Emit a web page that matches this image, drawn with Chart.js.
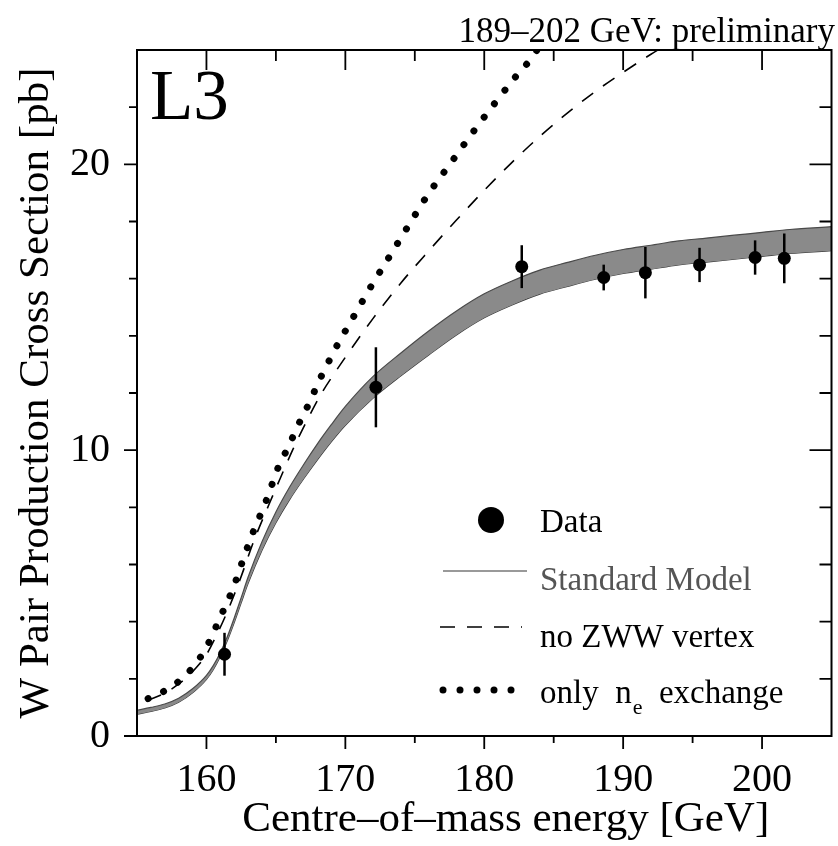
<!DOCTYPE html>
<html>
<head>
<meta charset="utf-8">
<title>W pair production cross section</title>
<script src="https://cdn.jsdelivr.net/npm/chart.js@4.4.1/dist/chart.umd.min.js"></script>
<style>
  html, body { margin: 0; padding: 0; background: #fff; }
  #wrap { width: 838px; height: 846px; }
</style>
</head>
<body>
<div id="wrap"><canvas id="xsec" width="838" height="846"></canvas></div>
<script>
/* L3: W pair production cross section vs centre-of-mass energy */

// measured points (GeV, pb)
const dataEnergy = [161.3, 172.2, 182.7, 188.6, 191.6, 195.5, 199.5, 201.6];
const dataXsec   = [2.86, 12.2, 16.42, 16.04, 16.21, 16.48, 16.74, 16.71];
const dataErr    = [0.75, 1.4, 0.75, 0.45, 0.9, 0.6, 0.6, 0.87];

// Standard Model band (lower / upper edge)
const smEnergy = [155, 156, 157, 158, 159, 160, 160.5, 161, 161.5, 162, 162.5, 163, 164, 165, 166, 167, 168, 169, 170,
                  172, 174, 176, 178, 180, 182, 184, 186, 188, 190, 192, 194, 196, 198, 200, 202, 205];
const smLow  = [0.76, 0.86, 0.98, 1.18, 1.51, 1.98, 2.33, 2.78, 3.33, 3.97, 4.66, 5.34, 6.50, 7.46, 8.28, 9.00, 9.67, 10.30, 10.87,
                11.82, 12.60, 13.33, 14.03, 14.63, 15.08, 15.46, 15.73, 15.98, 16.18, 16.33, 16.48, 16.58, 16.68, 16.78, 16.88, 16.98];
const smHigh = [0.90, 1.00, 1.12, 1.32, 1.65, 2.12, 2.47, 2.92, 3.47, 4.13, 4.84, 5.56, 6.80, 7.84, 8.72, 9.50, 10.23, 10.90, 11.53,
                12.58, 13.40, 14.17, 14.87, 15.47, 15.92, 16.30, 16.57, 16.82, 17.02, 17.17, 17.32, 17.42, 17.52, 17.62, 17.72, 17.82];

// no ZWW vertex
const noZwwEnergy = [155.8, 157, 158, 159, 160, 160.7, 161.5, 162.4, 163.44, 164.5, 165.3, 166.2, 167.2, 168.3, 169.3, 170,
                     172, 174, 176, 178, 180, 182, 184, 186, 188, 190, 192, 193.2];
const noZwwXsec   = [1.25, 1.5, 1.82, 2.25, 2.85, 3.5, 4.35, 5.45, 6.86, 8.1, 9.0, 10.0, 11.0, 12.0, 12.75, 13.25,
                     14.61, 15.85, 16.97, 18.05, 19.09, 20.07, 20.98, 21.8, 22.55, 23.22, 23.85, 24.2];

// only nu_e exchange
const nueEnergy = [155.8, 157.0, 158.1, 159.0, 159.8, 160.4, 160.9, 161.5, 162.0, 162.4, 162.85, 163.3, 163.8, 164.3, 164.75,
                   165.2, 165.8, 166.35, 166.9, 167.5, 168.0, 168.6, 169.2, 170.5, 171.8, 173.2, 174.6, 176.0, 177.55,
                   179.1, 180.7, 182.3, 183.2, 183.8];
const nueXsec   = [1.31, 1.58, 1.95, 2.39, 2.94, 3.5, 4.06, 4.69, 5.27, 5.84, 6.46, 7.06, 7.64, 8.23, 8.84,
                   9.44, 10.02, 10.6, 11.18, 11.74, 12.32, 12.9, 13.48, 14.59, 15.69, 16.79, 17.9, 18.98, 20.02,
                   21.07, 22.1, 23.09, 23.59, 24.0];

const xTicks = { min: 155, max: 205, step: 5 };
const yTicks = { min: 0, max: 24, step: 2 };

const FONT = '"Liberation Serif", "Times New Roman", serif';

function pts(xs, ys) { return xs.map((x, i) => ({ x: x, y: ys[i] })); }

const decor = {
  id: 'decor',
  afterDatasetsDraw(chart) {
    const { ctx, chartArea: a, scales: { x, y } } = chart;
    ctx.save();

    // error bars
    ctx.strokeStyle = '#000';
    ctx.lineWidth = 2.5;
    dataEnergy.forEach((e, i) => {
      const px = x.getPixelForValue(e);
      ctx.beginPath();
      ctx.moveTo(px, y.getPixelForValue(dataXsec[i] - dataErr[i]));
      ctx.lineTo(px, y.getPixelForValue(dataXsec[i] + dataErr[i]));
      ctx.stroke();
    });

    // frame
    ctx.lineWidth = 2;
    ctx.strokeRect(a.left, a.top, a.right - a.left, a.bottom - a.top);

    // tick marks: bottom/left outward, top/right inward
    ctx.lineWidth = 1.8;
    ctx.beginPath();
    x.ticks.forEach(t => {
      if (t.value <= xTicks.min || t.value >= xTicks.max) return;
      const px = x.getPixelForValue(t.value);
      const major = t.value % 10 === 0;
      ctx.moveTo(px, a.bottom); ctx.lineTo(px, a.bottom + (major ? 13 : 7));
      ctx.moveTo(px, a.top);    ctx.lineTo(px, a.top + (major ? 20 : 11));
    });
    y.ticks.forEach(t => {
      if (t.value >= yTicks.max) return;
      const py = y.getPixelForValue(t.value);
      const major = t.value % 10 === 0;
      ctx.moveTo(a.left, py);  ctx.lineTo(a.left - (major ? 13 : 8), py);
      if (t.value > yTicks.min) { ctx.moveTo(a.right, py); ctx.lineTo(a.right - (major ? 22 : 12), py); }
    });
    ctx.stroke();
    ctx.restore();
  },
  afterDraw(chart) {
    const ctx = chart.ctx;
    ctx.save();
    ctx.fillStyle = '#000';
    ctx.textBaseline = 'alphabetic';

    ctx.font = '71px ' + FONT;
    ctx.textAlign = 'left';
    ctx.fillText('L3', 150, 119);

    ctx.font = '35px ' + FONT;
    ctx.textAlign = 'right';
    ctx.fillText('189\u2013202 GeV: preliminary', 835, 42);

    // legend
    ctx.textAlign = 'left';
    ctx.font = '33px ' + FONT;

    ctx.beginPath();
    ctx.arc(491, 520, 13, 0, Math.PI * 2);
    ctx.fill();
    ctx.fillText('Data', 540, 532);

    ctx.strokeStyle = '#777';
    ctx.lineWidth = 1.5;
    ctx.beginPath(); ctx.moveTo(443, 571); ctx.lineTo(527, 571); ctx.stroke();
    ctx.fillStyle = '#555';
    ctx.fillText('Standard Model', 540, 590);

    ctx.fillStyle = '#000';
    ctx.strokeStyle = '#000';
    ctx.setLineDash([15, 12]);
    ctx.beginPath(); ctx.moveTo(440, 627); ctx.lineTo(522, 627); ctx.stroke();
    ctx.setLineDash([]);
    ctx.fillText('no ZWW vertex', 540, 647);

    for (let i = 0; i < 5; i++) {
      ctx.beginPath();
      ctx.arc(443 + 17 * i, 690, 3.5, 0, Math.PI * 2);
      ctx.fill();
    }
    let tx = 540;
    ctx.fillText('only  n', tx, 703);
    tx += ctx.measureText('only  n').width + 1;
    ctx.font = '22px ' + FONT;
    ctx.fillText('e', tx, 714);
    tx += ctx.measureText('e').width;
    ctx.font = '33px ' + FONT;
    ctx.fillText('  exchange', tx, 703);

    ctx.restore();
  }
};

new Chart(document.getElementById('xsec'), {
  type: 'scatter',
  data: {
    datasets: [
      {
        label: 'Data',
        data: pts(dataEnergy, dataXsec),
        pointRadius: 6.5,
        pointBackgroundColor: '#000',
        pointBorderWidth: 0,
        showLine: false
      },
      {
        label: 'SM upper',
        data: pts(smEnergy, smHigh),
        showLine: true,
        pointRadius: 0,
        borderColor: '#4a4a4a',
        borderWidth: 1.2,
        backgroundColor: '#8a8a8a',
        fill: '+1',
        cubicInterpolationMode: 'monotone'
      },
      {
        label: 'SM lower',
        data: pts(smEnergy, smLow),
        showLine: true,
        pointRadius: 0,
        borderColor: '#3a3a3a',
        borderWidth: 1.2,
        fill: false,
        cubicInterpolationMode: 'monotone'
      },
      {
        label: 'no ZWW vertex',
        data: pts(noZwwEnergy, noZwwXsec),
        showLine: true,
        pointRadius: 0,
        borderColor: '#000',
        borderWidth: 1.6,
        borderDash: [14, 12],
        fill: false,
        cubicInterpolationMode: 'monotone'
      },
      {
        label: 'only nu_e exchange',
        data: pts(nueEnergy, nueXsec),
        showLine: true,
        pointRadius: 0,
        borderColor: '#000',
        borderWidth: 7,
        borderDash: [0.01, 17],
        borderCapStyle: 'round',
        fill: false,
        cubicInterpolationMode: 'monotone'
      }
    ]
  },
  options: {
    responsive: false,
    animation: false,
    events: [],
    layout: { padding: { top: 50, right: 2, left: 0, bottom: 0 } },
    plugins: {
      legend: { display: false },
      tooltip: { enabled: false }
    },
    scales: {
      x: {
        type: 'linear',
        min: xTicks.min,
        max: xTicks.max,
        afterFit(s) { s.height = 110; s.paddingLeft = 0; s.paddingRight = 0; },
        grid: { display: false, drawTicks: false },
        border: { display: false },
        ticks: {
          stepSize: xTicks.step,
          autoSkip: false,
          maxRotation: 0,
          padding: 20,
          color: '#000',
          font: { family: FONT, size: 40 },
          callback: v => (v % 10 === 0 ? String(v) : '')
        },
        title: {
          display: true,
          // two en spaces nudge the centred title right, as in the original
          text: '\u2002\u2002Centre\u2013of\u2013mass energy [GeV]',
          color: '#000',
          font: { family: FONT, size: 43 },
          padding: { top: 0, bottom: 0 }
        }
      },
      y: {
        type: 'linear',
        min: yTicks.min,
        max: yTicks.max,
        afterFit(s) { s.width = 137; s.paddingTop = 0; s.paddingBottom = 0; },
        grid: { display: false, drawTicks: false },
        border: { display: false },
        ticks: {
          stepSize: yTicks.step,
          autoSkip: false,
          includeBounds: false,
          padding: 27,
          color: '#000',
          font: { family: FONT, size: 40 },
          callback: v => (v % 10 === 0 ? String(v) : '')
        },
        title: {
          display: true,
          text: 'W Pair Production Cross Section [pb]',
          color: '#000',
          font: { family: FONT, size: 43 },
          padding: { top: 11, bottom: 0 }
        }
      }
    }
  },
  plugins: [decor]
});
</script>
</body>
</html>
